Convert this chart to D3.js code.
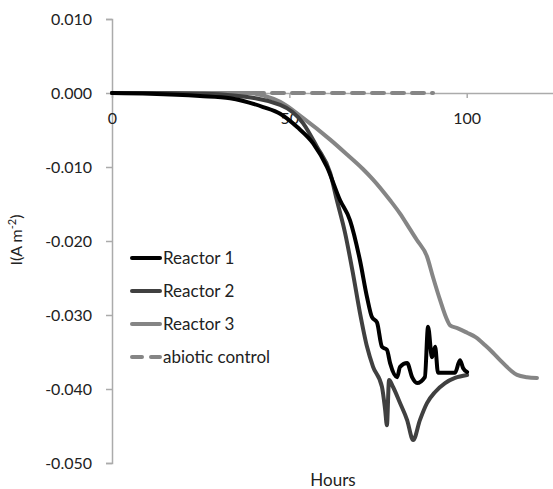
<!DOCTYPE html>
<html>
<head>
<meta charset="utf-8">
<script src="https://cdn.jsdelivr.net/npm/d3@7"></script>
<style>
  html, body { margin: 0; padding: 0; background: #fff; }
  svg { display: block; font-family: Lato, "Open Sans", sans-serif; }
</style>
</head>
<body>
<svg id="chart" width="553" height="489"></svg>
<script>
// Current density I (A m^-2) versus time (hours) for three reactors and an abiotic control
const reactor1 = [
  [0, 0], [10.7, -0.0001], [24.8, -0.0004], [33.3, -0.0007], [42.6, -0.0019], [47.4, -0.0028],
  [52.2, -0.0046], [56.7, -0.0068], [60.6, -0.0100], [64.3, -0.0145], [67.1, -0.0172],
  [69.9, -0.0226], [71.9, -0.0276], [73.3, -0.0303], [74.7, -0.0310], [76.1, -0.0343],
  [77.5, -0.0347], [78.4, -0.0365], [80.4, -0.0384], [81.2, -0.0370], [83.2, -0.0365],
  [84.6, -0.0384], [86.0, -0.0392], [88.2, -0.0384], [89.1, -0.0316], [90.2, -0.0357],
  [91.1, -0.0343], [91.9, -0.0378], [94.5, -0.0378], [96.7, -0.0378], [98.1, -0.0361],
  [99.0, -0.0372], [100.1, -0.0377]
];
const reactor2 = [
  [0, 0], [10.7, 0], [24.8, -0.0001], [33.3, -0.0003], [47.4, -0.0016], [53.9, -0.0041],
  [57.8, -0.0073], [61.5, -0.0108], [63.4, -0.0145], [65.7, -0.0189], [67.9, -0.0243],
  [69.9, -0.0297], [71.9, -0.0343], [73.6, -0.0370], [76.1, -0.0397], [77.0, -0.0428],
  [77.5, -0.0449], [78.1, -0.0388], [79.2, -0.0397], [81.2, -0.0419], [83.2, -0.0442],
  [84.9, -0.0469], [86.8, -0.0442], [88.8, -0.0419], [91.1, -0.0404], [93.9, -0.0392],
  [96.7, -0.0385], [100.1, -0.0381]
];
const reactor3 = [
  [0, 0], [38.9, 0], [43.1, -0.0004], [47.4, -0.0012], [53.9, -0.0034], [61.5, -0.0063],
  [66.0, -0.0082], [70.8, -0.0103], [73.6, -0.0117], [78.4, -0.0145], [81.2, -0.0163],
  [84.0, -0.0184], [86.0, -0.0199], [88.8, -0.0221], [90.5, -0.0249], [92.5, -0.0280],
  [94.5, -0.0307], [95.3, -0.0314], [97.5, -0.0318], [100.1, -0.0324], [102.5, -0.0330],
  [105.2, -0.0341], [107.4, -0.0351], [109.4, -0.0361], [112.2, -0.0374], [114.2, -0.0381],
  [117.0, -0.0384], [119.8, -0.0385]
];
const abioticControl = [[0, 0], [20, 0.0000], [45, 0.0000], [70, 0.0000], [90.5, 0.0000]];

const seriesNames = ["Reactor 1", "Reactor 2", "Reactor 3", "abiotic control"];
const seriesData = [reactor1, reactor2, reactor3, abioticControl];
const seriesColors = ["#000000", "#404040", "#858585", "#858585"];
const seriesDash = [null, null, null, "12,8"];

const yTicks = [0.01, 0.0, -0.01, -0.02, -0.03, -0.04, -0.05];
const xTicks = [0, 50, 100];

const svg = d3.select("#chart");

const x = d3.scaleLinear().domain([0, 125]).range([112, 555.4]);
const y = d3.scaleLinear().domain([-0.05, 0.01]).range([463, 19]);

// y axis
const yAxis = svg.append("g")
  .attr("transform", `translate(${x(0)},0)`)
  .call(d3.axisLeft(y).tickValues(yTicks).tickSize(6).tickPadding(14)
    .tickFormat(d => (Math.abs(d) < 1e-12 ? 0 : d).toFixed(3)));

// x axis, crossing at zero
const xAxis = svg.append("g")
  .attr("transform", `translate(0,${y(0)})`)
  .call(d3.axisBottom(x).tickValues(xTicks).tickSize(5).tickPadding(15)
    .tickFormat(d3.format("d")));

[yAxis, xAxis].forEach(g => {
  g.select(".domain").attr("stroke", "#ababab").attr("stroke-width", 1.5);
  g.selectAll(".tick line").attr("stroke", "#ababab").attr("stroke-width", 1.5);
  g.selectAll(".tick text").attr("fill", "#222").style("font-size", "16px")
    .style("font-family", "Lato, 'Open Sans', sans-serif");
});
xAxis.select(".domain").attr("d", `M${x(0)},0.5H553`);

// data lines
const line = d3.line().x(d => x(d[0])).y(d => y(d[1])).curve(d3.curveMonotoneX);
const order = [3, 2, 1, 0];
order.forEach(i => {
  svg.append("path")
    .datum(seriesData[i])
    .attr("fill", "none")
    .attr("stroke", seriesColors[i])
    .attr("stroke-width", 4)
    .attr("stroke-linejoin", "round")
    .attr("stroke-linecap", "round")
    .attr("stroke-dasharray", seriesDash[i])
    .attr("d", line);
});

// legend
const legend = svg.append("g").attr("transform", "translate(130,258)");
seriesNames.forEach((name, i) => {
  const row = legend.append("g").attr("transform", `translate(0,${i * 33})`);
  row.append("line")
    .attr("x1", 2).attr("x2", 30).attr("y1", 0).attr("y2", 0)
    .attr("stroke", seriesColors[i]).attr("stroke-width", 4)
    .attr("stroke-linecap", "round")
    .attr("stroke-dasharray", seriesDash[i] ? "10,9" : null);
  row.append("text")
    .attr("x", 33).attr("y", 0).attr("dy", "0.35em")
    .attr("fill", "#222").style("font-size", "17px")
    .text(name);
});

// axis titles
svg.append("text")
  .attr("transform", `translate(22,240) rotate(-90)`)
  .attr("text-anchor", "middle")
  .attr("fill", "#222").style("font-size", "16px")
  .html('I(A m<tspan dy="-6" font-size="11px">-2</tspan><tspan dy="6">)</tspan>');

svg.append("text")
  .attr("x", 333).attr("y", 486)
  .attr("text-anchor", "middle")
  .attr("fill", "#222").style("font-size", "17px")
  .text("Hours");
</script>
</body>
</html>
